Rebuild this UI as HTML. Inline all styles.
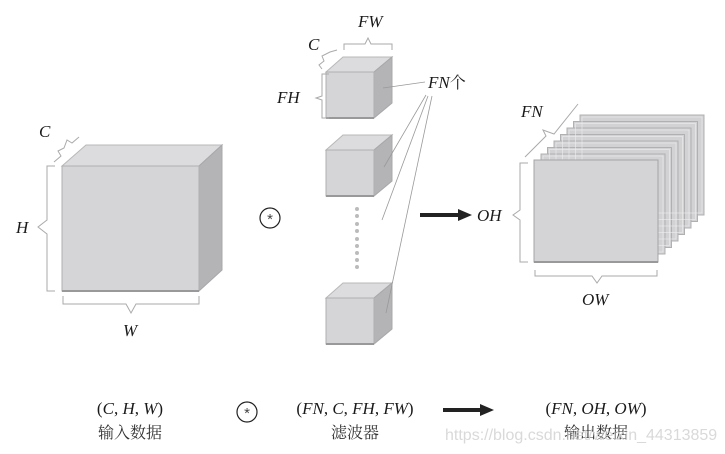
<!DOCTYPE html>
<html><head><meta charset="utf-8">
<style>
html,body{margin:0;padding:0;background:#fff;}
svg{display:block;}
.it{font-family:"Liberation Serif","Noto Serif CJK SC",serif;font-style:italic;font-size:17px;fill:#1a1a1a;}
.rm{font-family:"Liberation Serif","Noto Serif CJK SC",serif;font-size:17px;fill:#1a1a1a;}
.cj{font-family:"Liberation Serif","Noto Serif CJK SC",serif;font-size:16px;fill:#333;}
.br{fill:none;stroke:#aaa;stroke-width:1;}
</style></head><body>
<svg width="725" height="454" viewBox="0 0 725 454" xmlns="http://www.w3.org/2000/svg">
<!-- Big input cube -->
<polygon points="62,166 86,145 222,145 199,166" fill="#dcdcde" stroke="#b8b8ba"/>
<polygon points="199,166 222,145 222,270 199,291" fill="#b4b4b6" stroke="#a8a8aa"/>
<rect x="62" y="166" width="137" height="125" fill="#d5d5d7" stroke="#b0b0b2"/>
<line x1="62" y1="291" x2="199" y2="291" stroke="#999" stroke-width="2"/>
<!-- brackets input -->
<path class="br" d="M54,162 L61,156 L58,151 L64,148 L67,140 L72,143 L79,137" />
<path class="br" d="M55,166 L47,166 L47,220 L38,227 L47,234 L47,291 L55,291"/>
<path class="br" d="M63,296 L63,304 L126,304 L131,313 L136,304 L199,304 L199,296"/>
<text class="it" x="39" y="137">C</text>
<text class="it" x="16" y="233">H</text>
<text class="it" x="123" y="336">W</text>

<!-- convolution symbol -->
<circle cx="270" cy="218" r="10" fill="none" stroke="#222" stroke-width="1.2"/>
<text x="270" y="224" text-anchor="middle" font-family="Liberation Sans,sans-serif" font-size="15" fill="#444">*</text>

<!-- filter cubes -->
<g id="fc">
<polygon points="326,72 343,57 392,57 374,72" fill="#dcdcde" stroke="#b8b8ba"/>
<polygon points="374,72 392,57 392,103 374,118" fill="#b4b4b6" stroke="#a8a8aa"/>
<rect x="326" y="72" width="48" height="46" fill="#d5d5d7" stroke="#b0b0b2"/>
<line x1="326" y1="118" x2="374" y2="118" stroke="#999" stroke-width="2"/>
</g>
<use href="#fc" y="78"/>
<use href="#fc" y="226"/>
<g fill="#bbb">
<circle cx="357" cy="209" r="2"/><circle cx="357" cy="216" r="2"/><circle cx="357" cy="224" r="2"/>
<circle cx="357" cy="231" r="2"/><circle cx="357" cy="239" r="2"/><circle cx="357" cy="246" r="2"/>
<circle cx="357" cy="253" r="2"/><circle cx="357" cy="260" r="2"/><circle cx="357" cy="267" r="2"/>
</g>
<g stroke="#999" stroke-width="0.8">
<line x1="383" y1="88" x2="425" y2="82"/>
<line x1="384" y1="167" x2="426" y2="95"/>
<line x1="382" y1="220" x2="428" y2="96"/>
<line x1="386" y1="313" x2="432" y2="96"/>
</g>
<path class="br" d="M344,50 L344,44 L365,44 L368,38 L371,44 L392,44 L392,50"/>
<path class="br" d="M322,69 L319,65 L324,61 L322,56 L330,52 L337,50"/>
<path class="br" d="M329,74 L322,74 L322,96 L316,98 L322,100 L322,118 L329,118"/>
<text class="it" x="358" y="27">FW</text>
<text class="it" x="308" y="50">C</text>
<text class="it" x="277" y="103">FH</text>
<text class="it" x="428" y="88">FN<tspan font-style="normal" font-family="Noto Serif CJK SC,serif" font-size="16">个</tspan></text>

<!-- arrow -->
<line x1="420" y1="215" x2="460" y2="215" stroke="#222" stroke-width="4"/>
<polygon points="458,209 472,215 458,221" fill="#222"/>
<text class="it" x="477" y="221">OH</text>

<!-- output stack -->
<g stroke="#b0b0b2" stroke-width="1">
<rect x="580" y="115" width="124" height="100" fill="#d2d2d4"/>
<rect x="573.5" y="121.5" width="124" height="100" fill="#d2d2d4"/>
<rect x="567" y="128" width="124" height="100" fill="#d2d2d4"/>
<rect x="560.5" y="134.5" width="124" height="100" fill="#d2d2d4"/>
<rect x="554" y="141" width="124" height="100" fill="#d2d2d4"/>
<rect x="547.5" y="147.5" width="124" height="100" fill="#d2d2d4"/>
<rect x="541" y="154" width="124" height="100" fill="#d2d2d4"/>
</g>
<g stroke="#eeeeee" stroke-width="0.6" fill="none">
<rect x="582" y="117" width="120" height="96"/>
<rect x="575.5" y="123.5" width="120" height="96"/>
<rect x="569" y="130" width="120" height="96"/>
<rect x="562.5" y="136.5" width="120" height="96"/>
<rect x="556" y="143" width="120" height="96"/>
<rect x="549.5" y="149.5" width="120" height="96"/>
<rect x="543" y="156" width="120" height="96"/>
</g>
<rect x="534" y="160" width="124" height="102" fill="#d4d4d6" stroke="#a4a4a6"/>
<line x1="534" y1="262" x2="658" y2="262" stroke="#999" stroke-width="2"/>
<path class="br" d="M525,157 L546,136 L543,130 L554,134 L578,104"/>
<path class="br" d="M528,163 L520,163 L520,210 L513,215 L520,220 L520,262 L528,262"/>
<path class="br" d="M535,270 L535,276 L592,276 L597,283 L602,276 L657,276 L657,270"/>
<text class="it" x="521" y="117">FN</text>
<text class="it" x="582" y="305">OW</text>

<!-- bottom labels -->
<text class="rm" x="130" y="414" text-anchor="middle">(<tspan font-style="italic">C</tspan>, <tspan font-style="italic">H</tspan>, <tspan font-style="italic">W</tspan>)</text>
<text class="cj" x="130" y="438" text-anchor="middle">输入数据</text>
<circle cx="247" cy="412" r="10" fill="none" stroke="#222" stroke-width="1.2"/>
<text x="247" y="418" text-anchor="middle" font-family="Liberation Sans,sans-serif" font-size="15" fill="#444">*</text>
<text class="rm" x="355" y="414" text-anchor="middle">(<tspan font-style="italic">FN</tspan>, <tspan font-style="italic">C</tspan>, <tspan font-style="italic">FH</tspan>, <tspan font-style="italic">FW</tspan>)</text>
<text class="cj" x="355" y="438" text-anchor="middle">滤波器</text>
<line x1="443" y1="410" x2="482" y2="410" stroke="#222" stroke-width="4"/>
<polygon points="480,404 494,410 480,416" fill="#222"/>
<text class="rm" x="596" y="414" text-anchor="middle">(<tspan font-style="italic">FN</tspan>, <tspan font-style="italic">OH</tspan>, <tspan font-style="italic">OW</tspan>)</text>
<text class="cj" x="596" y="438" text-anchor="middle">输出数据</text>
<text x="445" y="440" font-family="Liberation Sans,sans-serif" font-size="16" fill="#d0d0d0" fill-opacity="0.8">https://blog.csdn.net/weixin_44313859</text>
</svg>
</body></html>
